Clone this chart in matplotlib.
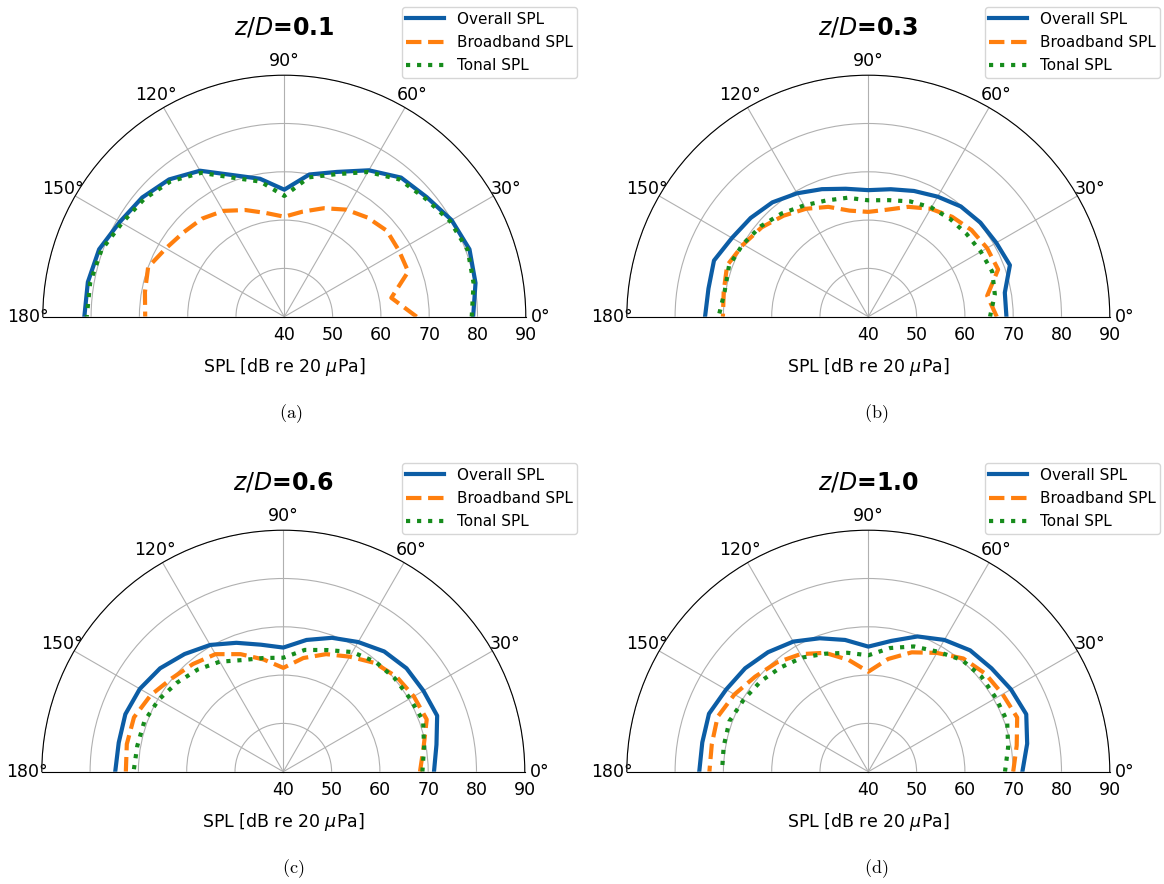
import numpy as np
import matplotlib.pyplot as plt

# polar angle of the microphones [deg]
angles = [0, 10, 20, 30, 40, 50, 60, 70, 80, 90, 100, 110, 120, 130, 140, 150, 160, 170, 180]

# z/D = 0.1
a_overall = [79.1, 80.2, 80.8, 80.0, 78.5, 77.6, 75.0, 71.9, 69.9, 66.3, 69.0, 71.2, 74.9, 77.1, 78.4, 79.3, 80.8, 81.3, 81.4]
a_broad = [67.4, 62.5, 67.3, 67.4, 67.7, 66.8, 65.6, 63.9, 62.1, 60.7, 61.8, 63.5, 65.3, 66.5, 67.2, 68.3, 70.0, 69.3, 68.8]
a_tonal = [78.8, 79.8, 80.4, 79.6, 78.1, 77.1, 74.6, 71.4, 69.3, 65.0, 68.4, 70.6, 74.4, 76.6, 77.9, 78.8, 80.3, 80.8, 80.9]

# z/D = 0.3
b_overall = [68.6, 68.7, 71.2, 70.6, 70.3, 69.8, 68.7, 67.7, 66.8, 66.2, 66.9, 68.1, 69.5, 70.9, 71.8, 72.6, 74.0, 73.6, 73.8]
b_broad = [66.6, 65.0, 68.6, 68.4, 67.9, 67.0, 65.8, 64.2, 62.5, 61.7, 62.3, 64.2, 65.8, 67.3, 68.8, 69.9, 71.1, 70.4, 70.1]
b_tonal = [65.2, 66.6, 67.3, 66.9, 66.6, 66.4, 66.1, 65.4, 64.5, 64.1, 65.0, 65.6, 66.6, 67.9, 69.1, 70.0, 70.7, 70.2, 71.0]

# z/D = 0.6
c_overall = [71.2, 72.2, 73.9, 73.5, 73.3, 72.5, 71.0, 69.5, 67.7, 65.7, 66.7, 68.4, 70.3, 71.8, 73.3, 74.3, 74.8, 74.6, 74.8]
c_broad = [68.3, 69.5, 71.6, 71.2, 70.6, 69.4, 67.5, 65.9, 63.9, 61.5, 63.6, 65.9, 68.1, 69.1, 70.1, 71.7, 72.9, 72.9, 72.6]
c_tonal = [68.8, 69.6, 70.8, 70.3, 70.1, 69.7, 68.6, 66.8, 65.6, 63.6, 63.9, 64.6, 66.3, 67.6, 68.7, 69.8, 70.6, 70.7, 71.0]

# z/D = 1.0
d_overall = [71.9, 73.4, 74.8, 74.1, 73.3, 72.8, 71.5, 69.8, 67.5, 65.9, 67.7, 69.4, 71.1, 72.3, 73.3, 74.0, 75.1, 74.9, 75.0]
d_broad = [70.0, 71.2, 72.8, 72.1, 71.6, 70.6, 68.4, 66.3, 63.7, 60.7, 63.5, 66.2, 68.1, 69.5, 70.6, 72.0, 73.2, 72.9, 72.9]
d_tonal = [68.3, 69.4, 70.6, 70.5, 70.6, 70.2, 68.7, 67.6, 66.0, 64.1, 65.0, 66.0, 67.3, 68.2, 69.1, 69.8, 70.6, 70.4, 70.3]

zD = ['0.1', '0.3', '0.6', '1.0']
captions = ['(a)', '(b)', '(c)', '(d)']
rticks = [40, 50, 60, 70, 80, 90]
labels = ['Overall SPL', 'Broadband SPL', 'Tonal SPL']

panels = [(a_overall, a_broad, a_tonal),
          (b_overall, b_broad, b_tonal),
          (c_overall, c_broad, c_tonal),
          (d_overall, d_broad, d_tonal)]

W, H = 1164, 884
R = 241.5
centers = [(284.3, 316.7), (868.3, 316.7), (283.3, 771.7), (868.3, 771.7)]
cap_pos = [(291, 414), (876, 414), (293, 869), (876, 869)]
leg_pos = [(577, 7), (1160, 7), (577, 463), (1160, 463)]

c_blue = '#0C5DA5'
c_orange = '#FF7F0E'
c_green = '#168C1C'

fig = plt.figure(figsize=(W/100, H/100), dpi=100)

th = np.deg2rad(angles)
for i in range(4):
    cx, cy = centers[i]
    # polar axes keep a square box, the half disc sits in its middle
    bot = cy + R/2  # square bottom, px from top
    ax = fig.add_axes([(cx-R)/W, (H-bot)/H, 2*R/W, 2*R/H], projection='polar')
    ov, bb, tn = panels[i]
    ax.plot(th, ov, '-', color=c_blue, lw=3, label=labels[0])
    ax.plot(th, bb, '--', color=c_orange, lw=3, label=labels[1])
    ax.plot(th, tn, ':', color=c_green, lw=3, label=labels[2])
    ax.set_thetamin(0)
    ax.set_thetamax(180)
    ax.set_rlim(40, 90)
    ax.set_rticks(rticks)
    ax.set_thetagrids([0, 30, 60, 90, 120, 150, 180])
    ax.tick_params(labelsize=12.5)
    ax.tick_params(axis='x', pad=0)
    ax.grid(True, color='#b0b0b0', lw=0.8)
    # title baseline ~282 px above the centre, x label ~50 px below
    ax.set_title(r'$z/D$=' + zD[i], fontsize=17, fontweight='bold', y=(R/2 + 282) / (2*R), pad=0)
    ax.text(0.5, (R/2 - 50.5) / (2*R), r'SPL [dB re 20 $\mu$Pa]', transform=ax.transAxes,
            ha='center', va='center', fontsize=12.5)
    lx, ly = leg_pos[i]
    ax.legend(loc='upper right', bbox_to_anchor=(lx/W, 1 - ly/H), bbox_transform=fig.transFigure,
              borderaxespad=0, fontsize=11, handlelength=2.5, borderpad=0.3, labelspacing=0.55)
    px, py = cap_pos[i]
    fig.text(px/W, 1 - py/H, r'$\mathrm{' + captions[i] + '}$', math_fontfamily='cm',
             fontsize=13, ha='center', va='center')

fig.savefig('out.png', dpi=100)
